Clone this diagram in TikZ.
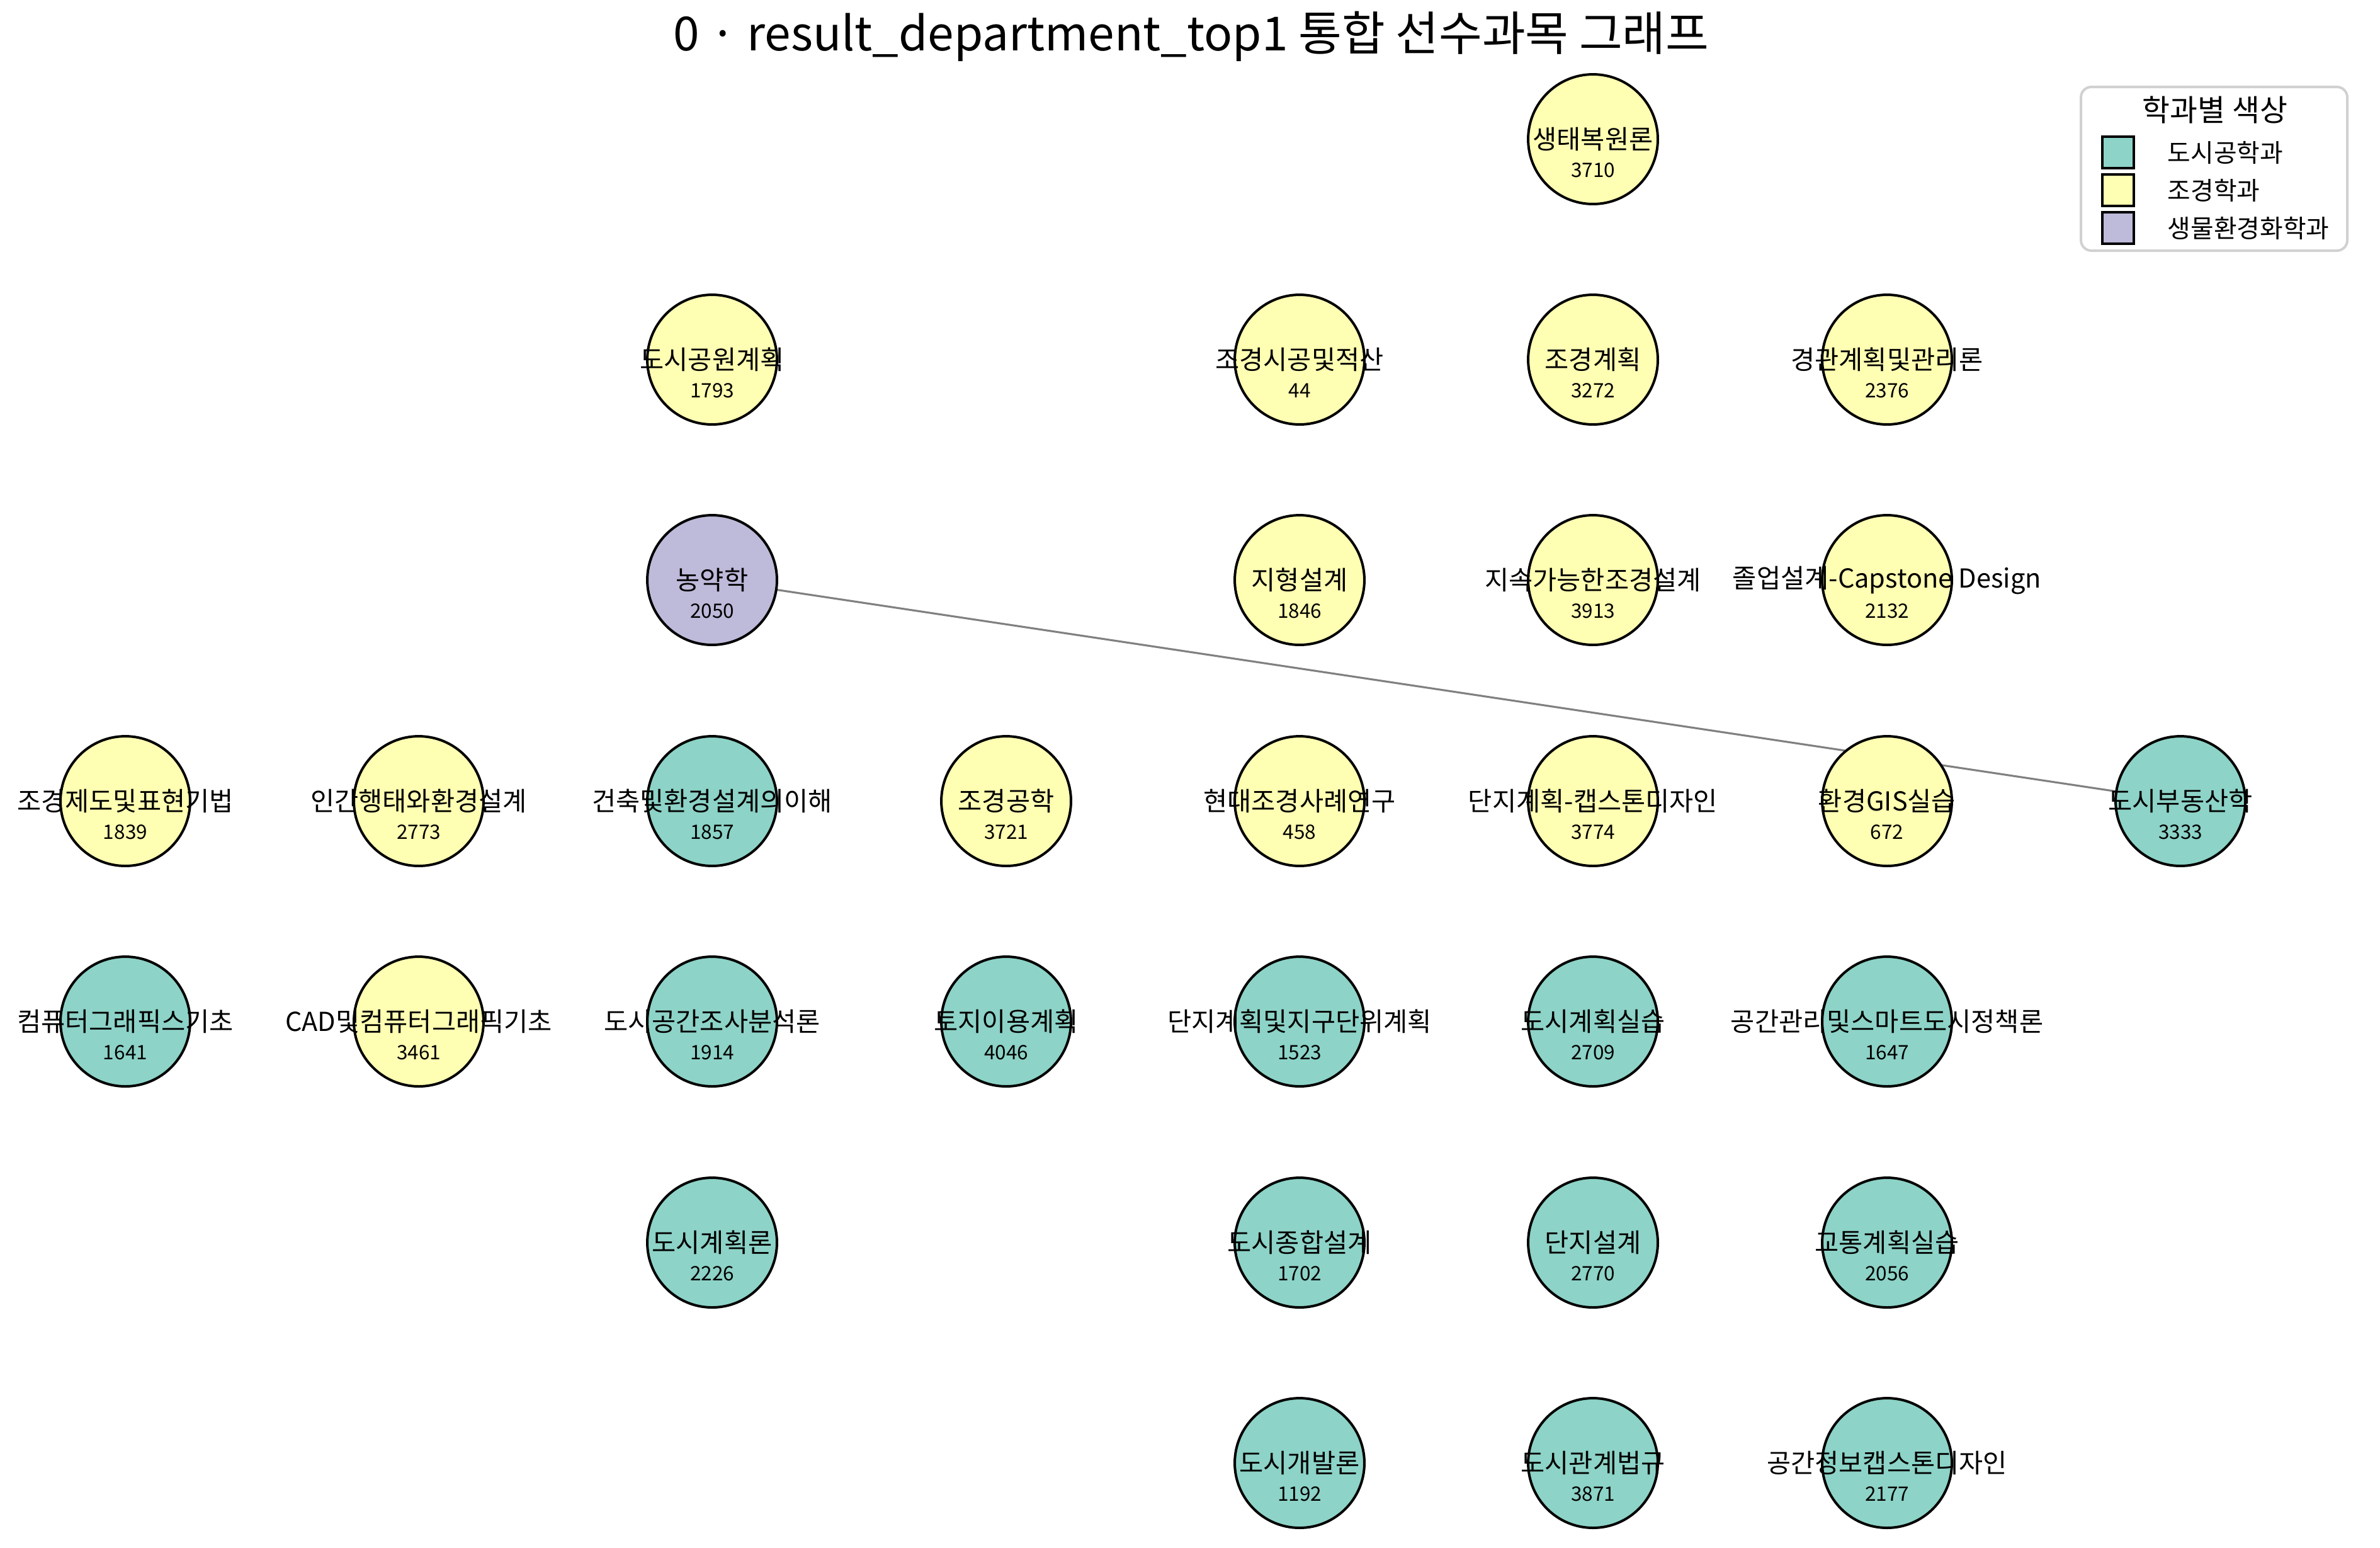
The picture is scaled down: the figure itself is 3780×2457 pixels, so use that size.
\documentclass[tikz,border=0pt]{standalone}
\usepackage{fontspec}
\setmainfont{Noto Sans CJK KR}
\usepackage{tikz}
\usetikzlibrary{backgrounds}

\definecolor{urban}{HTML}{8DD3C7}
\definecolor{landsc}{HTML}{FFFFB3}
\definecolor{bioenv}{HTML}{BEBADA}

\begin{document}
\begin{tikzpicture}[x=0.0084667cm, y=-0.0084667cm,
   course/.style={circle, draw=black, line width=0.96pt, minimum size=1.744cm, inner sep=0pt},
   cname/.style={font=\fontsize{10}{12}\selectfont, inner sep=0pt},
   cnum/.style={font=\fontsize{7.6}{9}\selectfont, inner sep=0pt, yshift=-0.415cm},
   prereq/.style={draw=gray, line width=0.75pt},
   legpatch/.style={draw=black, line width=0.96pt, minimum size=0.43cm, inner sep=0pt},
   legtext/.style={anchor=west, font=\fontsize{9.6}{11}\selectfont, inner sep=0pt}]
   \useasboundingbox (0,0) rectangle (3780,2457);

   \node[font=\fontsize{18}{22}\selectfont, inner sep=0pt] (title) at (1892,58)
      {0 · result\_department\_top1 통합 선수과목 그래프};

   % row 0
   \node[course, fill=landsc, label={[cname]center:생태복원론}, label={[cnum]center:3710}] (saengtae) at (2530,221) {};
   % row 1
   \node[course, fill=landsc, label={[cname]center:도시공원계획}, label={[cnum]center:1793}] (gongwon) at (1131,571) {};
   \node[course, fill=landsc, label={[cname]center:조경시공및적산}, label={[cnum]center:44}] (sigong) at (2064,571) {};
   \node[course, fill=landsc, label={[cname]center:조경계획}, label={[cnum]center:3272}] (jogyeong) at (2530,571) {};
   \node[course, fill=landsc, label={[cname]center:경관계획및관리론}, label={[cnum]center:2376}] (gyeonggwan) at (2997,571) {};
   % row 2
   \node[course, fill=bioenv, label={[cname]center:농약학}, label={[cnum]center:2050}] (nongyak) at (1131,921) {};
   \node[course, fill=landsc, label={[cname]center:지형설계}, label={[cnum]center:1846}] (jihyeong) at (2064,921) {};
   \node[course, fill=landsc, label={[cname]center:지속가능한조경설계}, label={[cnum]center:3913}] (jisok) at (2530,921) {};
   \node[course, fill=landsc, label={[cname]center:졸업설계-Capstone Design}, label={[cnum]center:2132}] (joreop) at (2997,921) {};
   % row 3
   \node[course, fill=landsc, label={[cname]center:조경제도및표현기법}, label={[cnum]center:1839}] (jedo) at (199,1272) {};
   \node[course, fill=landsc, label={[cname]center:인간행태와환경설계}, label={[cnum]center:2773}] (ingan) at (665,1272) {};
   \node[course, fill=urban, label={[cname]center:건축및환경설계의이해}, label={[cnum]center:1857}] (geonchuk) at (1131,1272) {};
   \node[course, fill=landsc, label={[cname]center:조경공학}, label={[cnum]center:3721}] (gonghak) at (1598,1272) {};
   \node[course, fill=landsc, label={[cname]center:현대조경사례연구}, label={[cnum]center:458}] (hyeondae) at (2064,1272) {};
   \node[course, fill=landsc, label={[cname]center:단지계획-캡스톤디자인}, label={[cnum]center:3774}] (danjicap) at (2530,1272) {};
   \node[course, fill=landsc, label={[cname]center:환경GIS실습}, label={[cnum]center:672}] (gis) at (2997,1272) {};
   \node[course, fill=urban, label={[cname]center:도시부동산학}, label={[cnum]center:3333}] (budongsan) at (3463,1272) {};
   % row 4
   \node[course, fill=urban, label={[cname]center:컴퓨터그래픽스기초}, label={[cnum]center:1641}] (graphics) at (199,1622) {};
   \node[course, fill=landsc, label={[cname]center:CAD및컴퓨터그래픽기초}, label={[cnum]center:3461}] (cad) at (665,1622) {};
   \node[course, fill=urban, label={[cname]center:도시공간조사분석론}, label={[cnum]center:1914}] (josa) at (1131,1622) {};
   \node[course, fill=urban, label={[cname]center:토지이용계획}, label={[cnum]center:4046}] (toji) at (1598,1622) {};
   \node[course, fill=urban, label={[cname]center:단지계획및지구단위계획}, label={[cnum]center:1523}] (jigu) at (2064,1622) {};
   \node[course, fill=urban, label={[cname]center:도시계획실습}, label={[cnum]center:2709}] (silseup) at (2530,1622) {};
   \node[course, fill=urban, label={[cname]center:공간관리및스마트도시정책론}, label={[cnum]center:1647}] (smart) at (2997,1622) {};
   % row 5
   \node[course, fill=urban, label={[cname]center:도시계획론}, label={[cnum]center:2226}] (gyehoekron) at (1131,1973) {};
   \node[course, fill=urban, label={[cname]center:도시종합설계}, label={[cnum]center:1702}] (jonghap) at (2064,1973) {};
   \node[course, fill=urban, label={[cname]center:단지설계}, label={[cnum]center:2770}] (danji) at (2530,1973) {};
   \node[course, fill=urban, label={[cname]center:교통계획실습}, label={[cnum]center:2056}] (gyotong) at (2997,1973) {};
   % row 6
   \node[course, fill=urban, label={[cname]center:도시개발론}, label={[cnum]center:1192}] (gaebal) at (2064,2323) {};
   \node[course, fill=urban, label={[cname]center:도시관계법규}, label={[cnum]center:3871}] (beopgyu) at (2530,2323) {};
   \node[course, fill=urban, label={[cname]center:공간정보캡스톤디자인}, label={[cnum]center:2177}] (gonggan) at (2997,2323) {};

   \begin{scope}[on background layer]
      \draw[prereq] (nongyak) -- (budongsan);
   \end{scope}

   % legend
   \draw[draw=black!18, line width=0.96pt, rounded corners=4pt, fill=white] (3305,138) rectangle (3728,398);
   \node[font=\fontsize{11.5}{13}\selectfont, inner sep=0pt] (legtitle) at (3518,175) {학과별 색상};
   \node[legpatch, fill=urban] (leg1) at (3364,242) {};
   \node[legpatch, fill=landsc] (leg2) at (3364,302) {};
   \node[legpatch, fill=bioenv] (leg3) at (3364,362) {};
   \node[legtext] (legtext1) at (3442,242) {도시공학과};
   \node[legtext] (legtext2) at (3442,302) {조경학과};
   \node[legtext] (legtext3) at (3442,362) {생물환경화학과};
\end{tikzpicture}
\end{document}
